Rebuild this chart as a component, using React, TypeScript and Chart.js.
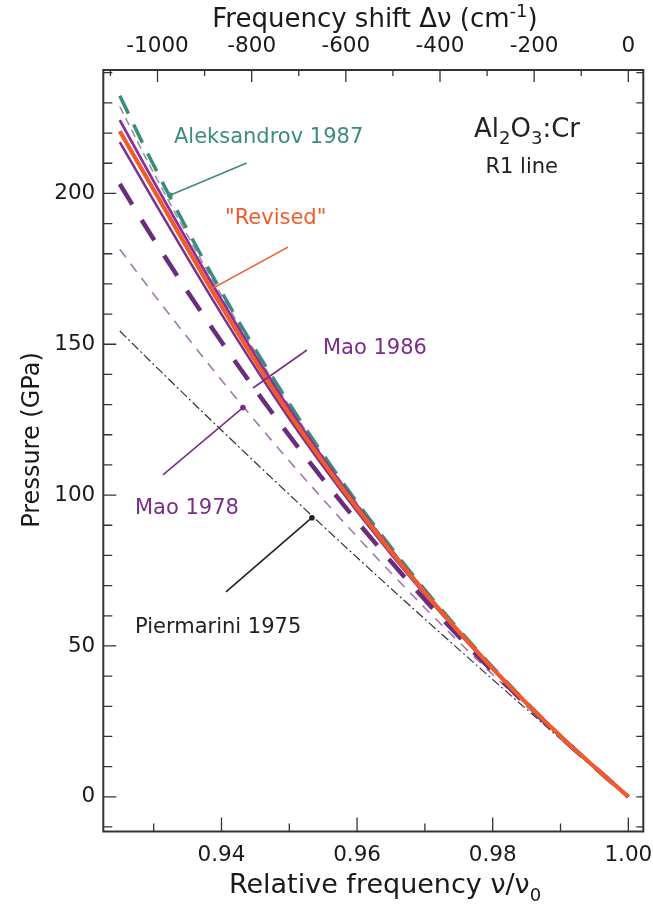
import React, { useEffect, useRef } from 'react';
import { Chart, registerables } from 'chart.js';

Chart.register(...registerables);

// ---------- data ----------
const NU0 = 14402; // R1 line wavenumber (cm^-1)
const relFreq = [0.925, 0.93, 0.94, 0.95, 0.96, 0.97, 0.98, 0.99, 1.0];
const aleksandrov1987 = [232.4, 209.3, 167.4, 130.3, 97.6, 68.6, 43.0, 20.2, 0];
const thinDashedCurve = [228.8, 206.8, 166.2, 129.6, 97.2, 68.4, 42.9, 20.2, 0];
const purpleSolidUpper = [224.3, 204.0, 164.8, 128.6, 96.6, 68.0, 42.7, 20.1, 0];
const revised = [220.6, 201.2, 162.6, 127.0, 95.7, 67.6, 42.5, 20.1, 0];
const purpleSolidLower = [217.0, 197.6, 160.0, 125.3, 94.6, 67.0, 42.3, 20.1, 0];
const mao1986 = [203.1, 184.8, 150.8, 119.7, 91.3, 65.3, 41.6, 19.9, 0];
const mao1978 = [181.5, 166.6, 138.1, 111.3, 86.2, 62.6, 40.5, 19.6, 0];
const piermarini1975 = [154.4, 143.3, 121.5, 100.2, 79.3, 58.9, 38.9, 19.2, 0];

const bottomTickLabels = [0.94, 0.96, 0.98, 1.0];
const topTickLabels = [-1000, -800, -600, -400, -200, 0];
const leftTickLabels = [0, 50, 100, 150, 200];

const X_MIN = 0.92257;
const X_MAX = 1.00221;
const Y_MIN = -11.5;
const Y_MAX = 240.9;

const FONT = '"DejaVu Sans", sans-serif';

const pts = (ys: number[]) => relFreq.map((x, i) => ({ x, y: ys[i] }));

type Part = { t: string; sub?: boolean; sup?: boolean };

function drawRich(ctx: CanvasRenderingContext2D, parts: Part[], x: number, y: number, size: number, align: 'left' | 'center') {
  const small = Math.round(size * 0.68);
  let total = 0;
  const widths = parts.map((p) => {
    ctx.font = `${p.sub || p.sup ? small : size}px ${FONT}`;
    const w = ctx.measureText(p.t).width;
    total += w;
    return w;
  });
  let cx = align === 'center' ? x - total / 2 : x;
  ctx.textAlign = 'left';
  ctx.textBaseline = 'alphabetic';
  parts.forEach((p, i) => {
    ctx.font = `${p.sub || p.sup ? small : size}px ${FONT}`;
    const dy = p.sub ? size * 0.28 : p.sup ? -size * 0.38 : 0;
    ctx.fillText(p.t, cx, y + dy);
    cx += widths[i];
  });
}

const decorPlugin = {
  id: 'decor',
  afterDraw(chart: any) {
    const { ctx, chartArea: a, scales } = chart;
    const sx = scales.x, sy = scales.y, st = scales.xTop;
    const px = (v: number) => sx.getPixelForValue(v);
    const py = (v: number) => sy.getPixelForValue(v);
    ctx.save();
    // frame
    ctx.strokeStyle = '#333333';
    ctx.lineWidth = 2;
    ctx.strokeRect(a.left, a.top, a.right - a.left, a.bottom - a.top);
    // inward ticks
    ctx.lineWidth = 1.3;
    sx.ticks.forEach((t: any) => {
      const v = Math.round(t.value * 100);
      const major = v % 2 === 0;
      const p = px(t.value);
      ctx.beginPath();
      ctx.moveTo(p, a.bottom);
      ctx.lineTo(p, a.bottom - (major ? 14 : 8));
      ctx.stroke();
    });
    st.ticks.forEach((t: any) => {
      const v = Math.round(t.value);
      const major = v % 200 === 0;
      const p = st.getPixelForValue(t.value);
      ctx.beginPath();
      ctx.moveTo(p, a.top);
      ctx.lineTo(p, a.top + (major ? 12 : 6));
      ctx.stroke();
    });
    sy.ticks.forEach((t: any) => {
      const v = Math.round(t.value);
      const major = v % 50 === 0;
      const p = py(t.value);
      ctx.beginPath();
      ctx.moveTo(a.left, p);
      ctx.lineTo(a.left + (major ? 13 : 9), p);
      ctx.moveTo(a.right, p);
      ctx.lineTo(a.right - 7, p);
      ctx.stroke();
    });

    // axis titles
    ctx.fillStyle = '#1a1a1a';
    drawRich(ctx, [{ t: 'Frequency shift \u0394\u03bd (cm' }, { t: '-1', sup: true }, { t: ')' }], 375, 27, 26, 'center');
    drawRich(ctx, [{ t: 'Relative frequency \u03bd/\u03bd' }, { t: '0', sub: true }], 385, 893, 27, 'center');
    ctx.save();
    ctx.translate(39, 440);
    ctx.rotate(-Math.PI / 2);
    drawRich(ctx, [{ t: 'Pressure (GPa)' }], 0, 0, 24, 'center');
    ctx.restore();

    // annotations
    const pointer = (x1: number, y1: number, x2: number, y2: number, color: string, dot: boolean) => {
      ctx.strokeStyle = color;
      ctx.fillStyle = color;
      ctx.lineWidth = 1.6;
      ctx.beginPath();
      ctx.moveTo(px(x1), py(y1));
      ctx.lineTo(px(x2), py(y2));
      ctx.stroke();
      if (dot) {
        ctx.beginPath();
        ctx.arc(px(x2), py(y2), 2.8, 0, Math.PI * 2);
        ctx.fill();
      }
    };
    const label = (text: string, x: number, y: number, color: string, size: number, align: 'left' | 'center') => {
      ctx.fillStyle = color;
      drawRich(ctx, [{ t: text }], px(x), py(y) + size * 0.36, size, align);
    };

    const teal = '#3a8c7c';
    const orange = '#f15a29';
    const purple = '#7a2d8a';
    label('Aleksandrov 1987', 0.93299, 219.3, teal, 21, 'left');
    pointer(0.94372, 210.1, 0.9324, 199.4, teal, true);
    label('"Revised"', 0.94052, 192.4, orange, 21, 'left');
    pointer(0.94981, 182.2, 0.93875, 168.6, orange, false);
    label('Mao 1986', 0.95497, 149.2, purple, 21, 'left');
    pointer(0.95261, 148.1, 0.94465, 135.5, purple, false);
    label('Mao 1978', 0.92724, 96.1, purple, 21, 'left');
    pointer(0.93137, 106.7, 0.94317, 129.0, purple, true);
    label('Piermarini 1975', 0.92724, 56.8, '#222222', 21, 'left');
    pointer(0.94066, 67.9, 0.95334, 92.5, '#222222', true);

    ctx.fillStyle = '#222222';
    drawRich(ctx, [{ t: 'Al' }, { t: '2', sub: true }, { t: 'O' }, { t: '3', sub: true }, { t: ':Cr' }], px(0.98506), py(222.0) + 9.5, 26, 'center');
    drawRich(ctx, [{ t: 'R1 line' }], px(0.98428), py(209.4) + 7.5, 21, 'center');
    ctx.restore();
  },
};

export default function App() {
  const ref = useRef<HTMLCanvasElement | null>(null);
  useEffect(() => {
    document.body.style.margin = '0';
    const canvas = ref.current!;
    const tickFont = { family: FONT, size: 21.5 };
    // Chart.js paints the first dataset on top, so the list runs from top layer to bottom layer.
    const chart = new Chart(canvas, {
      type: 'line',
      data: {
        datasets: [
          { label: 'Revised', data: pts(revised), borderColor: '#f15a29', borderWidth: 4.2 },
          { label: 'purple upper', data: pts(purpleSolidUpper), borderColor: '#8e2c9e', borderWidth: 2.8 },
          { label: 'purple lower', data: pts(purpleSolidLower), borderColor: '#7b2f8f', borderWidth: 2.5 },
          { label: 'Aleksandrov 1987', data: pts(aleksandrov1987), borderColor: '#3a8c7c', borderWidth: 3.5, borderDash: [20, 12] },
          { label: 'unlabeled dashed', data: pts(thinDashedCurve), borderColor: '#9d8fa3', borderWidth: 1.6, borderDash: [8, 5] },
          { label: 'Mao 1986', data: pts(mao1986), borderColor: '#6a2c7d', borderWidth: 4.5, borderDash: [24, 18] },
          { label: 'Mao 1978', data: pts(mao1978), borderColor: '#a277b0', borderWidth: 1.6, borderDash: [10, 8] },
          { label: 'Piermarini 1975', data: pts(piermarini1975), borderColor: '#333333', borderWidth: 1.2, borderDash: [9, 3, 2, 3] },
        ].map((d) => ({ ...d, pointRadius: 0, fill: false, cubicInterpolationMode: 'monotone' as const, borderCapStyle: 'butt' as const, xAxisID: 'x', yAxisID: 'y' })),
      },
      options: {
        responsive: false,
        animation: false,
        devicePixelRatio: 1,
        layout: { padding: { left: 0, right: 9.7, top: 0, bottom: 0 } },
        plugins: { legend: { display: false }, tooltip: { enabled: false } },
        scales: {
          x: {
            type: 'linear',
            position: 'bottom',
            min: X_MIN,
            max: X_MAX,
            grid: { display: false, drawTicks: false },
            border: { display: false },
            ticks: {
              stepSize: 0.01,
              includeBounds: false,
              autoSkip: false,
              maxRotation: 0,
              padding: 11,
              font: tickFont,
              color: '#1a1a1a',
              callback: (v: any) => {
                const r = Math.round(Number(v) * 100) / 100;
                return bottomTickLabels.some((b) => Math.abs(b - r) < 1e-6) ? r.toFixed(2) : '';
              },
            },
            afterFit: (s: any) => { s.height = 72.5; s.paddingLeft = 0; s.paddingRight = 0; },
          },
          xTop: {
            type: 'linear',
            position: 'top',
            min: (X_MIN - 1) * NU0,
            max: (X_MAX - 1) * NU0,
            grid: { display: false, drawTicks: false },
            border: { display: false },
            ticks: {
              stepSize: 100,
              includeBounds: false,
              autoSkip: false,
              maxRotation: 0,
              padding: 11,
              font: tickFont,
              color: '#1a1a1a',
              callback: (v: any) => {
                const r = Math.round(Number(v));
                return topTickLabels.includes(r) ? String(r) : '';
              },
            },
            afterFit: (s: any) => { s.height = 70; s.paddingLeft = 0; s.paddingRight = 0; },
          },
          y: {
            type: 'linear',
            position: 'left',
            min: Y_MIN,
            max: Y_MAX,
            grid: { display: false, drawTicks: false },
            border: { display: false },
            ticks: {
              stepSize: 10,
              includeBounds: false,
              autoSkip: false,
              padding: 8,
              font: tickFont,
              color: '#1a1a1a',
              callback: (v: any) => {
                const r = Math.round(Number(v));
                return leftTickLabels.includes(r) ? String(r) : '';
              },
            },
            afterFit: (s: any) => { s.width = 103.3; s.paddingTop = 0; s.paddingBottom = 0; },
          },
        },
      },
      plugins: [decorPlugin],
    });
    return () => chart.destroy();
  }, []);
  return <canvas ref={ref} width={653} height={904} style={{ display: 'block' }} />;
}
